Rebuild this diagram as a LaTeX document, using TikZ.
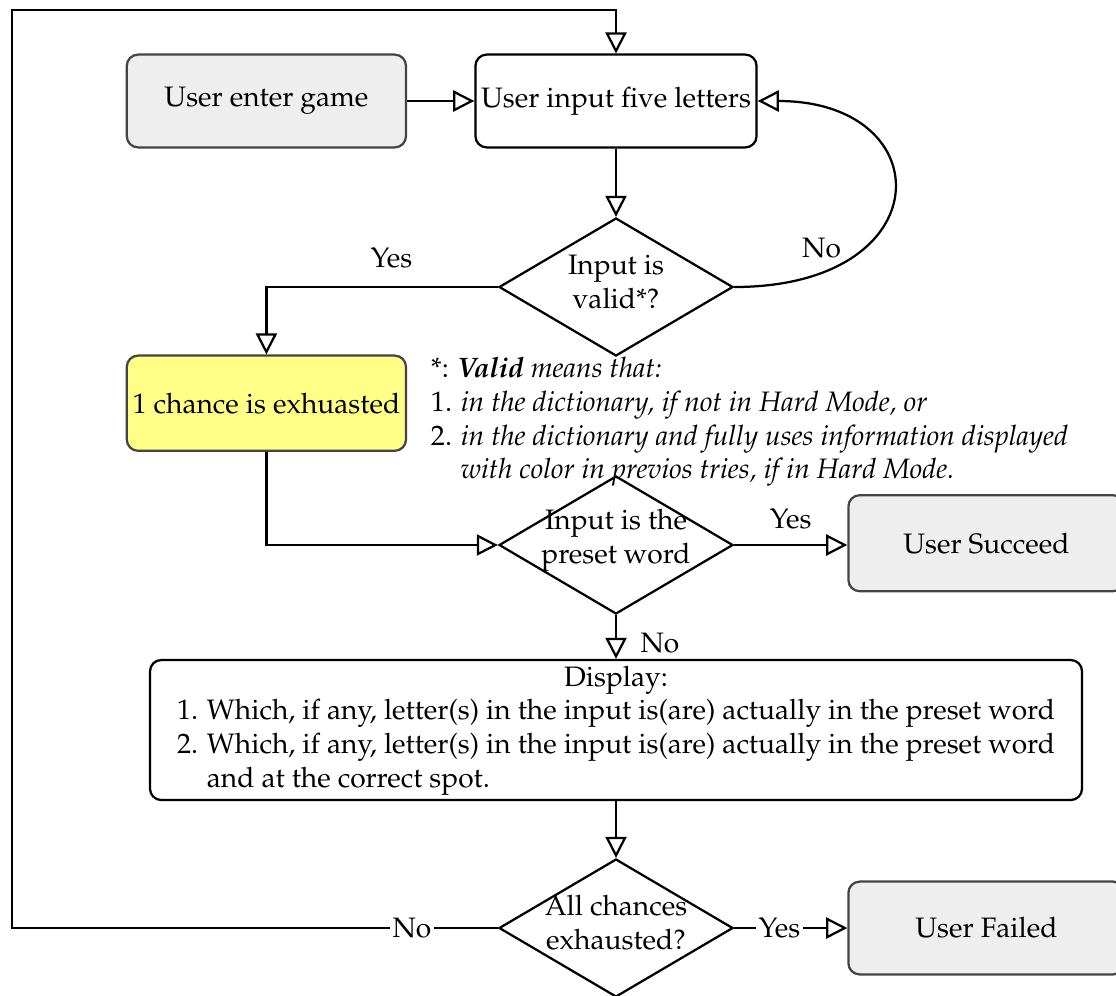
\documentclass[tikz,border=0pt]{standalone}
\usepackage[T1]{fontenc}
\usepackage{mathpazo}
\usetikzlibrary{shapes.geometric,arrows.meta,positioning}

\definecolor{boxgray}{HTML}{EEEEEE}
\definecolor{edgegray}{HTML}{444444}
\definecolor{chanceyellow}{HTML}{FFFF88}

\tikzset{
	flow/.style={draw, line width=0.8pt, rounded corners=4pt, inner xsep=2pt, minimum width=3.49cm, minimum height=1.16cm, align=center},
	endbox/.style={flow, draw=edgegray, fill=boxgray},
	decision/.style={diamond, draw, line width=0.8pt, inner sep=0pt, minimum width=2.925cm, minimum height=1.725cm},
	dtext/.style={align=center, yshift=1.8pt},
	arr/.style={line width=0.8pt, -{Triangle[open, length=7.5pt, width=7.5pt]}},
	lbl/.style={inner sep=1pt, fill=white},
}

\begin{document}
\begin{tikzpicture}
	\useasboundingbox (0,0) rectangle (13.95,-12.4375);
	% boxes
	\node[endbox] (enter) at (3.33,-1.2625) {User enter game};
	\node[flow] (input) at (7.7,-1.2625) {User input five letters};
	\node[decision, label={[dtext]center:Input is\\valid*?}] (valid) at (7.7,-3.5875) {};
	\node[endbox, fill=chanceyellow, minimum height=1.19cm] (chance) at (3.33,-5.04) {1 chance is exhuasted};
	\node[decision, label={[dtext]center:Input is the\\preset word}] (preset) at (7.7,-6.8125) {};
	\node[endbox, minimum width=3.45cm, minimum height=1.2cm] (succeed) at (12.33,-6.79) {User Succeed};
	\node[flow, inner ysep=0pt, minimum width=11.65cm, minimum height=1.75cm] (display) at (7.7,-9.125) {%
		\begin{tabular}{@{}l@{}}
			\multicolumn{1}{c}{Display:}\\
			1. Which, if any, letter(s) in the input is(are) actually in the preset word\\
			2. Which, if any, letter(s) in the input is(are) actually in the preset word\\
			\phantom{2. }and at the correct spot.
		\end{tabular}};
	\node[decision, label={[dtext]center:All chances\\exhausted?}] (chances) at (7.7,-11.6) {};
	\node[endbox, minimum width=3.45cm] (failed) at (12.33,-11.6) {User Failed};
	% note
	\node[anchor=north west, align=left, inner sep=0pt] (note) at (5.38,-4.46) {%
		*: \textbf{\itshape Valid} \textit{means that:}\\
		1. \textit{in the dictionary, if not in Hard Mode, or}\\
		2. \textit{in the dictionary and fully uses information displayed}\\
		\phantom{2. }\textit{with color in previos tries, if in Hard Mode.}};
	\coordinate (loop) at (0.15,-0.125);
	% connectors
	\draw[arr] (enter) -- (input);
	\draw[arr] (input) -- (valid);
	\draw[arr] (valid.east) .. controls +(2.6,0) and +(2.3,0) .. node[pos=0.23, anchor=south east, inner sep=1pt]{No} (input.east);
	\draw[arr] (valid.west) -| node[pos=0.23, above=3pt]{Yes} (chance.north);
	\draw[arr] (chance.south) |- (preset.west);
	\draw[arr] (preset.east) -- node[above=2pt]{Yes} (preset.east -| succeed.west);
	\draw[arr] (preset) -- node[right=5pt, yshift=-2pt]{No} (display);
	\draw[arr] (display) -- (chances);
	\draw[arr] (chances) -- node[lbl, pos=0.4]{Yes} (failed);
	\draw[arr] (chances.west) -- node[lbl, pos=0.177]{No} (chances.west -| loop) -- (loop) -| (input.north);
\end{tikzpicture}
\end{document}
